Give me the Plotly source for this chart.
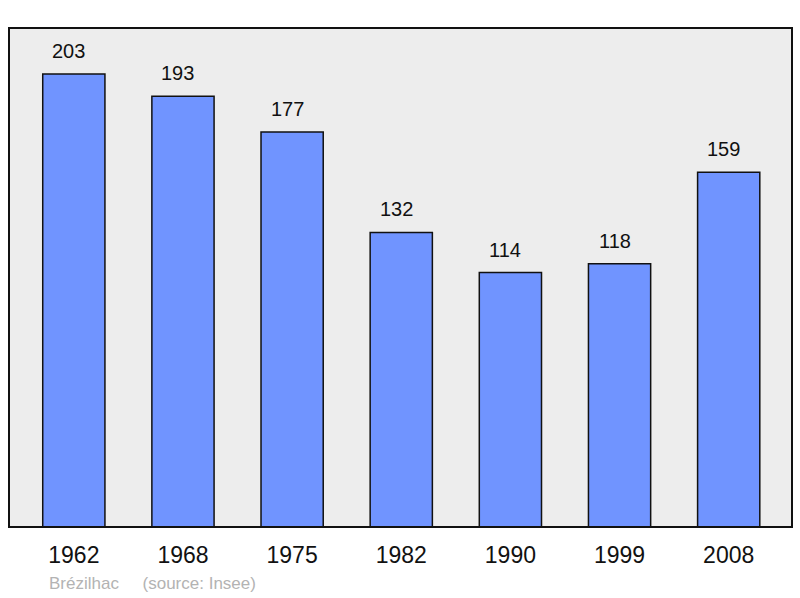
import plotly.graph_objects as go

years = ["1962", "1968", "1975", "1982", "1990", "1999", "2008"]
population = [203, 193, 177, 132, 114, 118, 159]
commune = "Brézilhac"
source_note = "(source: Insee)"

bar_color = "#7094ff"
font_family = "Liberation Sans, Arial, sans-serif"

fig = go.Figure()
fig.add_trace(go.Bar(
    x=list(range(len(years))),
    y=population,
    width=0.57,
    marker=dict(color=bar_color, line=dict(color="#111111", width=1.5)),
    hoverinfo="skip",
))

for i, v in enumerate(population):
    fig.add_annotation(x=i, y=v, text=str(v), showarrow=False,
                       yanchor="bottom", yshift=10, xshift=-5,
                       font=dict(family=font_family, size=20, color="#111111"))

fig.add_annotation(xref="paper", yref="paper", x=0.048, y=-0.113,
                   text=commune + "&nbsp;&nbsp;&nbsp;&nbsp;&nbsp;" + source_note,
                   showarrow=False, xanchor="left", yanchor="middle",
                   font=dict(family=font_family, size=17, color="#b3b3b3"))

fig.add_shape(type="rect", xref="paper", yref="paper", x0=0, y0=0, x1=1, y1=1,
              line=dict(color="#111111", width=2), layer="above")

fig.update_layout(
    width=800, height=598,
    margin=dict(l=9, r=8, t=28, b=71),
    paper_bgcolor="white",
    plot_bgcolor="#ededed",
    showlegend=False,
    xaxis=dict(tickmode="array", tickvals=list(range(len(years))), ticktext=years,
               range=[-0.594, 6.58], showgrid=False, zeroline=False,
               ticks="", ticklabelstandoff=12,
               tickfont=dict(family=font_family, size=23, color="#111111")),
    yaxis=dict(range=[0, 223.6], showgrid=False, zeroline=False, showticklabels=False, ticks=""),
)

fig.write_html("out.html", config={"displayModeBar": False},
               post_script="document.body.style.margin='0';document.body.style.padding='0';")
